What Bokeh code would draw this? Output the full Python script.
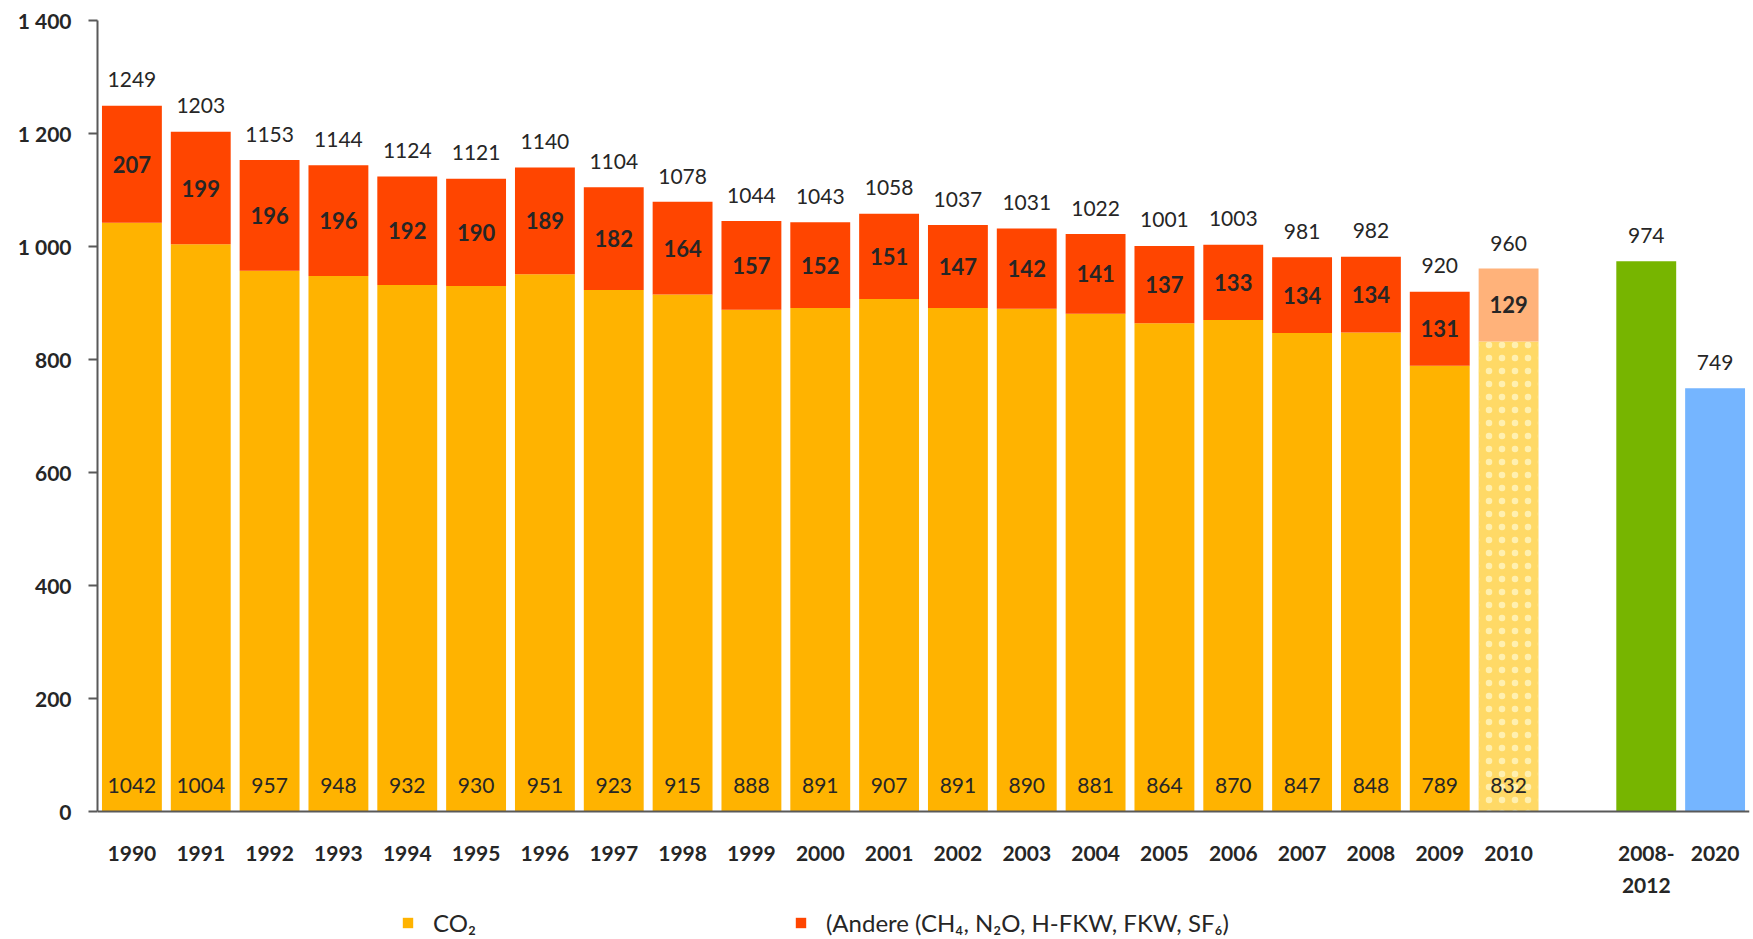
from bokeh.plotting import figure
from bokeh.models import FactorRange, Range1d, FixedTicker, Legend, LegendItem
from bokeh.core.properties import value
from bokeh.embed import file_html
from bokeh.resources import INLINE

# ---- data ----
years = ["1990", "1991", "1992", "1993", "1994", "1995", "1996", "1997", "1998", "1999",
         "2000", "2001", "2002", "2003", "2004", "2005", "2006", "2007", "2008", "2009", "2010"]
co2 = [1042, 1004, 957, 948, 932, 930, 951, 923, 915, 888,
       891, 907, 891, 890, 881, 864, 870, 847, 848, 789, 832]
andere = [207, 199, 196, 196, 192, 190, 189, 182, 164, 157,
          152, 151, 147, 142, 141, 137, 133, 134, 134, 131, 129]
totals = [1249, 1203, 1153, 1144, 1124, 1121, 1140, 1104, 1078, 1044,
          1043, 1058, 1037, 1031, 1022, 1001, 1003, 981, 982, 920, 960]
target_labels = ["2008-\n2012", "2020"]
target_values = [974, 749]
y_ticks = [0, 200, 400, 600, 800, 1000, 1200, 1400]
y_tick_labels = ["0", "200", "400", "600", "800", "1 000", "1 200", "1 400"]
legend_labels = ["CO\u2082", "(Andere (CH\u2084, N\u2082O, H-FKW, FKW, SF\u2086)"]

# ---- style / layout ----
FONT = value("Lato")
TXT = "#262626"
AXC = "#595959"
C_CO2 = "#FFB300"
C_AND = "#FF4500"
C_CO2_P = "#FFD966"
C_AND_P = "#FFB27A"
C_GREEN = "#77B500"
C_BLUE = "#75B5FF"
W = 0.87
PLOT_W, PLOT_H = 1753, 939
TOP, LEFT, RIGHT = 20, 97, 4
AXIS_PX = 791          # pixels spanned by 0..1400
Y_MAX = y_ticks[-1]
y_min = -Y_MAX * (PLOT_H - TOP - AXIS_PX) / AXIS_PX   # room below the x axis for labels + legend

factors = years + [" "] + target_labels
p = figure(x_range=FactorRange(factors=factors), y_range=Range1d(y_min, Y_MAX),
           width=PLOT_W, height=PLOT_H, output_backend="svg", toolbar_location=None,
           min_border_left=LEFT, min_border_right=RIGHT, min_border_top=TOP, min_border_bottom=0)
p.outline_line_color = None
p.xgrid.visible = False
p.ygrid.visible = False
p.background_fill_color = "white"
p.border_fill_color = "white"

hist = slice(0, 20)
hy = years[hist]
hc = co2[hist]
ha = andere[hist]
r_co2 = p.vbar(x=hy, bottom=0, top=hc, width=W, fill_color=C_CO2, line_color=None)
r_and = p.vbar(x=hy, bottom=hc, top=[c + a for c, a in zip(hc, ha)], width=W,
               fill_color=C_AND, line_color=None)

# 2010 (provisional)
p.vbar(x=years[20:], bottom=0, top=co2[20:], width=W, fill_color=C_CO2_P, line_color=None,
       hatch_pattern="dot", hatch_color="#FFF0B0", hatch_scale=13, hatch_weight=2)
p.vbar(x=years[20:], bottom=co2[20:], top=[c + a for c, a in zip(co2[20:], andere[20:])],
       width=W, fill_color=C_AND_P, line_color=None)

# targets
p.vbar(x=target_labels[:1], top=target_values[:1], bottom=0, width=W, fill_color=C_GREEN, line_color=None)
p.vbar(x=target_labels[1:], top=target_values[1:], bottom=0, width=W, fill_color=C_BLUE, line_color=None)

# value labels
common = dict(text_align="center", text_baseline="middle", text_font=FONT, text_color=TXT)
p.text(x=years, y=totals, text=[str(v) for v in totals], y_offset=-26,
       text_font_size="21px", **common)
p.text(x=years, y=0, text=[str(v) for v in co2], y_offset=-26,
       text_font_size="21px", **common)
p.text(x=years, y=[c + a / 2 for c, a in zip(co2, andere)], text=[str(v) for v in andere],
       text_font_size="22px", text_font_style="bold", **common)
p.text(x=target_labels, y=target_values, text=[str(v) for v in target_values], y_offset=-26,
       text_font_size="21px", **common)

# axes
ya = p.yaxis[0]
ya.ticker = FixedTicker(ticks=y_ticks)
ya.bounds = (0, Y_MAX)
ya.major_label_overrides = {t: l for t, l in zip(y_ticks, y_tick_labels)}
ya.minor_tick_line_color = None
ya.major_tick_out = 9
ya.major_tick_in = 0
ya.major_tick_line_color = AXC
ya.major_tick_line_width = 2
ya.axis_line_color = AXC
ya.axis_line_width = 2
ya.major_label_standoff = 17
ya.major_label_text_font = "Lato"
ya.major_label_text_font_style = "bold"
ya.major_label_text_font_size = "21px"
ya.major_label_text_color = TXT

xa = p.xaxis[0]
xa.fixed_location = 0
xa.major_tick_line_color = None
xa.minor_tick_line_color = None
xa.major_tick_out = 0
xa.major_tick_in = 0
xa.axis_line_color = AXC
xa.axis_line_width = 2
xa.major_label_standoff = 28
xa.major_label_text_font = "Lato"
xa.major_label_text_font_style = "bold"
xa.major_label_text_font_size = "21px"
xa.major_label_text_line_height = 1.3
xa.major_label_text_color = TXT

legend = Legend(items=[LegendItem(label=legend_labels[0], renderers=[r_co2]),
                       LegendItem(label=legend_labels[1], renderers=[r_and])],
                location=(304, 2), orientation="horizontal", spacing=318,
                padding=0, margin=0, border_line_color=None, background_fill_alpha=0,
                glyph_width=13, glyph_height=13, label_standoff=19, label_height=22,
                label_text_font="Lato", label_text_font_size="24px", label_text_color=TXT)
p.add_layout(legend)

open("out.html", "w").write(file_html(p, INLINE))
